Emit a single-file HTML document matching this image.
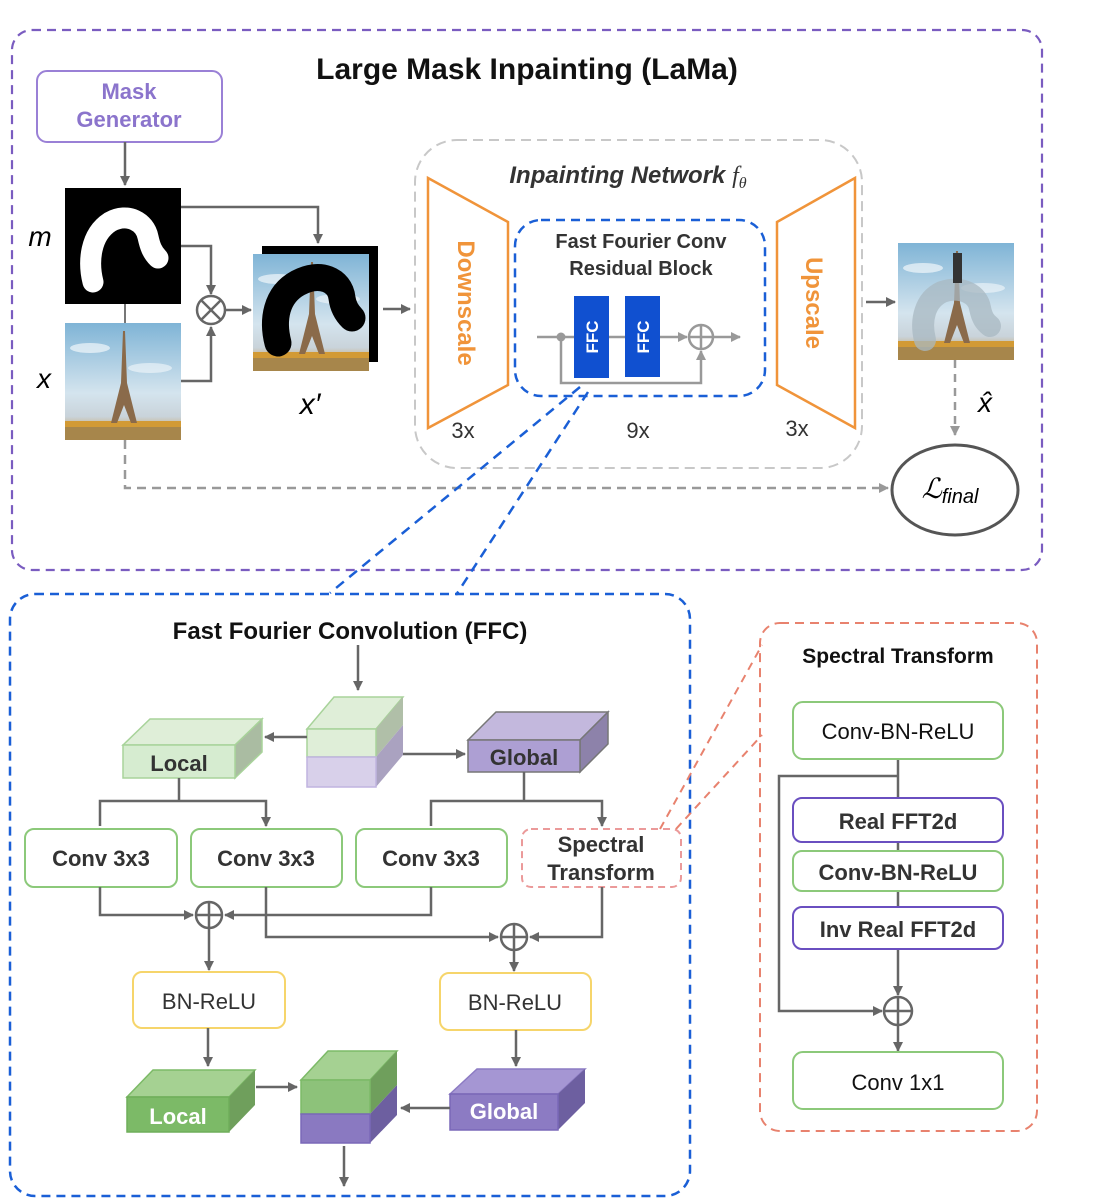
<!DOCTYPE html>
<html><head><meta charset="utf-8"><style>
html,body{margin:0;padding:0;background:#fff;}
svg{display:block;}
text{font-family:"Liberation Sans",sans-serif;}
</style></head><body>
<svg width="1105" height="1199" viewBox="0 0 1105 1199" xmlns="http://www.w3.org/2000/svg">
<defs>
<marker id="ah" markerWidth="10" markerHeight="10" refX="9" refY="5" orient="auto" markerUnits="userSpaceOnUse"><path d="M0,0 L10,5 L0,10 z" fill="#666"/></marker>
<marker id="ahg" markerWidth="10" markerHeight="10" refX="9" refY="5" orient="auto" markerUnits="userSpaceOnUse"><path d="M0,0 L10,5 L0,10 z" fill="#999"/></marker>
<linearGradient id="sky" x1="0" y1="0" x2="0" y2="1"><stop offset="0" stop-color="#7fb4d6"/><stop offset="0.6" stop-color="#d4e4ee"/><stop offset="0.8" stop-color="#c9d3da"/><stop offset="1" stop-color="#c98d2a"/></linearGradient>
<g id="photo">
<rect x="0" y="0" width="116" height="117" fill="url(#sky)"/>
<ellipse cx="25" cy="25" rx="20" ry="5" fill="#fff" opacity="0.6"/>
<ellipse cx="85" cy="45" rx="22" ry="5" fill="#fff" opacity="0.5"/>
<rect x="0" y="98" width="116" height="19" fill="#d29a35"/>
<rect x="0" y="104" width="116" height="13" fill="#8a7a5a" opacity="0.6"/>
<path d="M58,8 L60,8 L62,60 L72,100 L66,100 L59,82 L52,100 L46,100 L56,60 z" fill="#8a6a4a"/>
</g>
</defs>

<rect x="12" y="30" width="1030" height="540" rx="20" fill="none" stroke="#7a5cc0" stroke-width="2.2" stroke-dasharray="9,6"/>
<text x="527" y="79" text-anchor="middle" font-size="30" font-weight="bold" fill="#111">Large Mask Inpainting (LaMa)</text>

<rect x="37" y="71" width="185" height="71" rx="10" fill="#fff" stroke="#9a80d6" stroke-width="2"/>
<text x="129" y="99" text-anchor="middle" font-size="22" font-weight="bold" fill="#8b74cc">Mask</text>
<text x="129" y="127" text-anchor="middle" font-size="22" font-weight="bold" fill="#8b74cc">Generator</text>
<line x1="125" y1="142" x2="125" y2="185" stroke="#666" stroke-width="2.5" marker-end="url(#ah)"/>

<rect x="65" y="188" width="116" height="116" fill="#000"/>
<path d="M93,282 C88,262 90,235 110,222 C128,212 145,222 148,237 C150,246 152,252 158,258" fill="none" stroke="#fff" stroke-width="21" stroke-linecap="round"/>
<line x1="125" y1="304" x2="125" y2="323" stroke="#777" stroke-width="2"/>
<use href="#photo" x="65" y="323"/>
<text x="40" y="246" font-family="Liberation Serif,serif" font-style="italic" font-size="28" text-anchor="middle">m</text>
<text x="44" y="388" font-family="Liberation Serif,serif" font-style="italic" font-size="28" text-anchor="middle">x</text>

<polyline points="181,207 318,207 318,243" fill="none" stroke="#666" stroke-width="2.5" marker-end="url(#ah)"/>
<polyline points="181,246 211,246 211,294" fill="none" stroke="#666" stroke-width="2.5" marker-end="url(#ah)"/>
<polyline points="181,381 211,381 211,327" fill="none" stroke="#666" stroke-width="2.5" marker-end="url(#ah)"/>
<circle cx="211" cy="310" r="14" fill="#fff" stroke="#666" stroke-width="2.5"/>
<line x1="201" y1="300" x2="221" y2="320" stroke="#666" stroke-width="2.5"/>
<line x1="221" y1="300" x2="201" y2="320" stroke="#666" stroke-width="2.5"/>
<line x1="225" y1="310" x2="251" y2="310" stroke="#666" stroke-width="2.5" marker-end="url(#ah)"/>

<rect x="262" y="246" width="116" height="116" fill="#000"/>
<use href="#photo" x="253" y="254"/>
<path d="M278,343 C272,320 276,295 298,283 C320,271 340,280 342,298 C343,306 346,312 352,318" fill="none" stroke="#000" stroke-width="27" stroke-linecap="round"/>
<text x="310" y="414" font-family="Liberation Serif,serif" font-style="italic" font-size="30" text-anchor="middle">x′</text>
<line x1="383" y1="309" x2="410" y2="309" stroke="#666" stroke-width="2.5" marker-end="url(#ah)"/>

<rect x="415" y="140" width="447" height="328" rx="42" fill="none" stroke="#c8c8c8" stroke-width="2" stroke-dasharray="10,6"/>
<text x="628" y="183" text-anchor="middle" font-size="24" font-weight="bold" font-style="italic" fill="#333">Inpainting Network <tspan font-family="Liberation Serif,serif" font-weight="normal">f</tspan><tspan font-family="Liberation Serif,serif" font-weight="normal" font-size="16" dy="5">θ</tspan></text>
<polygon points="428,178 508,222 508,385 428,428" fill="#fff" stroke="#f0943a" stroke-width="2.5"/>
<text transform="translate(458,303) rotate(90)" text-anchor="middle" font-size="24" font-weight="bold" fill="#f0943a">Downscale</text>
<polygon points="855,178 777,222 777,385 855,428" fill="#fff" stroke="#f0943a" stroke-width="2.5"/>
<text transform="translate(806,303) rotate(90)" text-anchor="middle" font-size="24" font-weight="bold" fill="#f0943a">Upscale</text>

<rect x="515" y="220" width="250" height="176" rx="26" fill="none" stroke="#1a5fd6" stroke-width="2.5" stroke-dasharray="9,6"/>
<text x="641" y="248" text-anchor="middle" font-size="20" font-weight="bold" fill="#333">Fast Fourier Conv</text>
<text x="641" y="275" text-anchor="middle" font-size="20" font-weight="bold" fill="#333">Residual Block</text>
<line x1="537" y1="337" x2="574" y2="337" stroke="#999" stroke-width="2.5"/>
<line x1="609" y1="337" x2="625" y2="337" stroke="#999" stroke-width="2.5"/>
<line x1="660" y1="337" x2="687" y2="337" stroke="#999" stroke-width="2.5" marker-end="url(#ahg)"/>
<line x1="713" y1="337" x2="740" y2="337" stroke="#999" stroke-width="2.5" marker-end="url(#ahg)"/>
<circle cx="561" cy="337" r="4.5" fill="#999"/>
<polyline points="561,337 561,383 701,383 701,351" fill="none" stroke="#999" stroke-width="2.5" marker-end="url(#ahg)"/>
<circle cx="701" cy="337" r="12" fill="#fff" stroke="#999" stroke-width="2.5"/>
<line x1="689" y1="337" x2="713" y2="337" stroke="#999" stroke-width="2.5"/>
<line x1="701" y1="325" x2="701" y2="349" stroke="#999" stroke-width="2.5"/>
<rect x="574" y="296" width="35" height="82" fill="#1050d0"/>
<rect x="625" y="296" width="35" height="81" fill="#1050d0"/>
<text transform="translate(598,337) rotate(-90)" text-anchor="middle" font-size="17" font-weight="bold" fill="#fff">FFC</text>
<text transform="translate(649,337) rotate(-90)" text-anchor="middle" font-size="17" font-weight="bold" fill="#fff">FFC</text>
<text x="463" y="438" text-anchor="middle" font-size="22" fill="#333">3x</text>
<text x="638" y="438" text-anchor="middle" font-size="22" fill="#333">9x</text>
<text x="797" y="436" text-anchor="middle" font-size="22" fill="#333">3x</text>

<line x1="866" y1="302" x2="895" y2="302" stroke="#666" stroke-width="2.5" marker-end="url(#ah)"/>
<use href="#photo" x="898" y="243"/>
<path d="M925,340 C920,320 925,300 942,292 C962,285 978,295 980,308 C982,318 985,322 990,326" fill="none" stroke="#a8b8c2" stroke-width="22" stroke-linecap="round" opacity="0.75"/>
<rect x="953" y="253" width="9" height="30" fill="#333"/>
<line x1="955" y1="360" x2="955" y2="435" stroke="#999" stroke-width="2.5" stroke-dasharray="8,6" marker-end="url(#ahg)"/>
<text x="985" y="412" text-anchor="middle" font-family="Liberation Serif,serif" font-style="italic" font-size="28">x̂</text>
<polyline points="125,440 125,488 888,488" fill="none" stroke="#999" stroke-width="2.5" stroke-dasharray="9,6" marker-end="url(#ahg)"/>
<ellipse cx="955" cy="490" rx="63" ry="45" fill="#fff" stroke="#555" stroke-width="3"/>
<text x="950" y="498" text-anchor="middle" font-family="Liberation Serif,serif" font-style="italic" font-size="28">ℒ<tspan font-size="20" dy="5">final</tspan></text>

<line x1="580" y1="387" x2="330" y2="593" stroke="#1a5fd6" stroke-width="2.5" stroke-dasharray="10,7"/>
<line x1="588" y1="392" x2="456" y2="595" stroke="#1a5fd6" stroke-width="2.5" stroke-dasharray="10,7"/>

<rect x="10" y="594" width="680" height="602" rx="25" fill="none" stroke="#1a5fd6" stroke-width="2.5" stroke-dasharray="9,6"/>
<text x="350" y="639" text-anchor="middle" font-size="24" font-weight="bold" fill="#111">Fast Fourier Convolution (FFC)</text>
<line x1="358" y1="645" x2="358" y2="690" stroke="#666" stroke-width="2.5" marker-end="url(#ah)"/>

<polygon points="307,729 334,697 403,697 376,729" fill="#dfeed8" stroke="#a8d39a" stroke-width="1.5"/>
<polygon points="376,729 403,697 403,725 376,757" fill="#b0bfa8"/>
<polygon points="376,757 403,725 403,755 376,787" fill="#aaa2c0"/>
<rect x="307" y="729" width="69" height="28" fill="#dfeed8" stroke="#a8d39a" stroke-width="1.5"/>
<rect x="307" y="757" width="69" height="30" fill="#d8d0ea" stroke="#c0b4e0" stroke-width="1.5"/>

<polygon points="123,745 150,719 262,719 235,745" fill="#dfeed8" stroke="#a8d39a" stroke-width="1.5"/>
<polygon points="235,745 262,719 262,752 235,778" fill="#aabca2" stroke="#a8d39a" stroke-width="1.5"/>
<rect x="123" y="745" width="112" height="33" fill="#d6ecd0" stroke="#a8d39a" stroke-width="1.5"/>
<text x="179" y="771" text-anchor="middle" font-size="22" font-weight="bold" fill="#333">Local</text>
<line x1="307" y1="737" x2="265" y2="737" stroke="#666" stroke-width="2.5" marker-end="url(#ah)"/>

<polygon points="468,740 496,712 608,712 580,740" fill="#c3b8dd" stroke="#777" stroke-width="1.5"/>
<polygon points="580,740 608,712 608,744 580,772" fill="#8d82aa" stroke="#777" stroke-width="1.5"/>
<rect x="468" y="740" width="112" height="32" fill="#ad9fd3" stroke="#777" stroke-width="1.5"/>
<text x="524" y="765" text-anchor="middle" font-size="22" font-weight="bold" fill="#333">Global</text>
<line x1="403" y1="754" x2="465" y2="754" stroke="#666" stroke-width="2.5" marker-end="url(#ah)"/>

<polyline points="100,826 100,801 266,801 266,826" fill="none" stroke="#666" stroke-width="2.5" marker-end="url(#ah)"/>
<line x1="179" y1="778" x2="179" y2="801" stroke="#666" stroke-width="2.5"/>
<polyline points="431,826 431,801 602,801 602,826" fill="none" stroke="#666" stroke-width="2.5" marker-end="url(#ah)"/>
<line x1="524" y1="772" x2="524" y2="801" stroke="#666" stroke-width="2.5"/>

<g font-size="22" font-weight="bold" fill="#333" text-anchor="middle">
<rect x="25" y="829" width="152" height="58" rx="9" fill="#fff" stroke="#8cc97a" stroke-width="2"/>
<text x="101" y="866">Conv 3x3</text>
<rect x="191" y="829" width="151" height="58" rx="9" fill="#fff" stroke="#8cc97a" stroke-width="2"/>
<text x="266" y="866">Conv 3x3</text>
<rect x="356" y="829" width="151" height="58" rx="9" fill="#fff" stroke="#8cc97a" stroke-width="2"/>
<text x="431" y="866">Conv 3x3</text>
<rect x="522" y="829" width="159" height="58" rx="9" fill="#fff" stroke="#eb9a9a" stroke-width="2" stroke-dasharray="7,5"/>
<text x="601" y="852">Spectral</text>
<text x="601" y="880">Transform</text>
</g>

<polyline points="100,887 100,915 193,915" fill="none" stroke="#666" stroke-width="2.5" marker-end="url(#ah)"/>
<polyline points="431,887 431,915 225,915" fill="none" stroke="#666" stroke-width="2.5" marker-end="url(#ah)"/>
<polyline points="266,887 266,937 498,937" fill="none" stroke="#666" stroke-width="2.5" marker-end="url(#ah)"/>
<polyline points="602,887 602,937 530,937" fill="none" stroke="#666" stroke-width="2.5" marker-end="url(#ah)"/>
<circle cx="209" cy="915" r="13" fill="#fff" stroke="#666" stroke-width="2.5"/>
<line x1="196" y1="915" x2="222" y2="915" stroke="#666" stroke-width="2.5"/><line x1="209" y1="902" x2="209" y2="928" stroke="#666" stroke-width="2.5"/>
<circle cx="514" cy="937" r="13" fill="#fff" stroke="#666" stroke-width="2.5"/>
<line x1="501" y1="937" x2="527" y2="937" stroke="#666" stroke-width="2.5"/><line x1="514" y1="924" x2="514" y2="950" stroke="#666" stroke-width="2.5"/>
<line x1="209" y1="928" x2="209" y2="970" stroke="#666" stroke-width="2.5" marker-end="url(#ah)"/>
<line x1="514" y1="950" x2="514" y2="971" stroke="#666" stroke-width="2.5" marker-end="url(#ah)"/>

<rect x="133" y="972" width="152" height="56" rx="9" fill="#fff" stroke="#f6d56b" stroke-width="2"/>
<text x="209" y="1009" text-anchor="middle" font-size="22" fill="#333">BN-ReLU</text>
<rect x="440" y="973" width="151" height="57" rx="9" fill="#fff" stroke="#f6d56b" stroke-width="2"/>
<text x="515" y="1010" text-anchor="middle" font-size="22" fill="#333">BN-ReLU</text>
<line x1="208" y1="1028" x2="208" y2="1066" stroke="#666" stroke-width="2.5" marker-end="url(#ah)"/>
<line x1="516" y1="1030" x2="516" y2="1066" stroke="#666" stroke-width="2.5" marker-end="url(#ah)"/>

<polygon points="127,1097 153,1070 255,1070 229,1097" fill="#a5d192" stroke="#7cba67" stroke-width="1.5"/>
<polygon points="229,1097 255,1070 255,1105 229,1132" fill="#6f9f5c"/>
<rect x="127" y="1097" width="102" height="35" fill="#7cba67" stroke="#6fae5a" stroke-width="1.5"/>
<text x="178" y="1124" text-anchor="middle" font-size="22" font-weight="bold" fill="#fff">Local</text>
<polygon points="450,1094 477,1069 585,1069 558,1094" fill="#a596d3" stroke="#8c7bc3" stroke-width="1.5"/>
<polygon points="558,1094 585,1069 585,1103 558,1130" fill="#6d5fa0"/>
<rect x="450" y="1094" width="108" height="36" fill="#8c7bc3" stroke="#7a68b8" stroke-width="1.5"/>
<text x="504" y="1119" text-anchor="middle" font-size="22" font-weight="bold" fill="#fff">Global</text>
<polygon points="301,1080 328,1051 397,1051 370,1080" fill="#a5d192" stroke="#7cba67" stroke-width="1.5"/>
<polygon points="370,1080 397,1051 397,1085 370,1114" fill="#6f9f5c"/>
<polygon points="370,1114 397,1085 397,1115 370,1143" fill="#6d5fa0"/>
<rect x="301" y="1080" width="69" height="34" fill="#8dc27a" stroke="#7cba67" stroke-width="1.5"/>
<rect x="301" y="1114" width="69" height="29" fill="#8a79c1" stroke="#7a68b8" stroke-width="1.5"/>
<line x1="256" y1="1087" x2="297" y2="1087" stroke="#666" stroke-width="2.5" marker-end="url(#ah)"/>
<line x1="450" y1="1108" x2="401" y2="1108" stroke="#666" stroke-width="2.5" marker-end="url(#ah)"/>
<line x1="344" y1="1146" x2="344" y2="1186" stroke="#666" stroke-width="2.5" marker-end="url(#ah)"/>

<line x1="660" y1="829" x2="762" y2="645" stroke="#e8826e" stroke-width="2" stroke-dasharray="8,6"/>
<line x1="676" y1="829" x2="762" y2="735" stroke="#e8826e" stroke-width="2" stroke-dasharray="8,6"/>

<rect x="760" y="623" width="277" height="508" rx="20" fill="none" stroke="#e8826e" stroke-width="2" stroke-dasharray="9,6"/>
<text x="898" y="663" text-anchor="middle" font-size="21" font-weight="bold" fill="#111">Spectral Transform</text>
<line x1="898" y1="759" x2="898" y2="798" stroke="#666" stroke-width="2.5"/>
<line x1="898" y1="842" x2="898" y2="851" stroke="#666" stroke-width="2.5"/>
<line x1="898" y1="891" x2="898" y2="907" stroke="#666" stroke-width="2.5"/>
<line x1="898" y1="949" x2="898" y2="995" stroke="#666" stroke-width="2.5" marker-end="url(#ah)"/>
<polyline points="898,776 779,776 779,1011 882,1011" fill="none" stroke="#666" stroke-width="2.5" marker-end="url(#ah)"/>
<circle cx="898" cy="1011" r="14" fill="#fff" stroke="#666" stroke-width="2.5"/>
<line x1="884" y1="1011" x2="912" y2="1011" stroke="#666" stroke-width="2.5"/><line x1="898" y1="997" x2="898" y2="1025" stroke="#666" stroke-width="2.5"/>
<line x1="898" y1="1025" x2="898" y2="1051" stroke="#666" stroke-width="2.5" marker-end="url(#ah)"/>
<rect x="793" y="702" width="210" height="57" rx="10" fill="#fff" stroke="#8cc97a" stroke-width="2"/>
<text x="898" y="739" text-anchor="middle" font-size="22" fill="#111">Conv-BN-ReLU</text>
<rect x="793" y="798" width="210" height="44" rx="9" fill="#fff" stroke="#6a4fc0" stroke-width="2"/>
<text x="898" y="829" text-anchor="middle" font-size="22" font-weight="bold" fill="#333">Real FFT2d</text>
<rect x="793" y="851" width="210" height="40" rx="9" fill="#fff" stroke="#8cc97a" stroke-width="2"/>
<text x="898" y="880" text-anchor="middle" font-size="22" font-weight="bold" fill="#333">Conv-BN-ReLU</text>
<rect x="793" y="907" width="210" height="42" rx="9" fill="#fff" stroke="#6a4fc0" stroke-width="2"/>
<text x="898" y="937" text-anchor="middle" font-size="22" font-weight="bold" fill="#333">Inv Real FFT2d</text>
<rect x="793" y="1052" width="210" height="57" rx="10" fill="#fff" stroke="#8cc97a" stroke-width="2"/>
<text x="898" y="1090" text-anchor="middle" font-size="22" fill="#111">Conv 1x1</text>
</svg>
</body></html>
